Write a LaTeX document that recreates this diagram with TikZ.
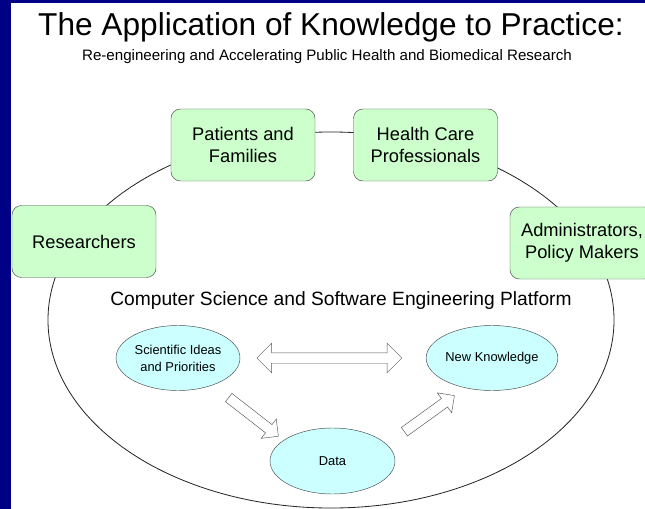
\documentclass[tikz,border=0pt]{standalone}
\usepackage{fontspec}
\setmainfont{Liberation Sans}
\usetikzlibrary{shapes.geometric,shapes.arrows}

\definecolor{slideblue}{RGB}{0,0,135}
\definecolor{actorgreen}{RGB}{204,255,204}
\definecolor{stagecyan}{RGB}{204,255,255}

\begin{document}
\begin{tikzpicture}[x=0.03cm, y=-0.03cm,
  actor/.style={draw=black!70, fill=actorgreen, rounded corners=8pt, minimum width=4.32cm, minimum height=2.16cm, align=center, inner sep=2pt, font=\fontsize{15.6}{18.7}\selectfont},
  stage/.style={draw=black!70, fill=stagecyan, ellipse, minimum width=3.72cm, minimum height=1.95cm, inner sep=0pt, align=center, font=\fontsize{11}{14.5}\selectfont},
  fatarrow/.style={draw=black!65, fill=white, single arrow, single arrow head extend=0.21cm, inner xsep=0pt, inner ysep=0.15cm, sloped},
  twoway/.style={draw=black!65, fill=white, double arrow, double arrow head extend=0.285cm, inner xsep=0pt, inner ysep=0.15cm}]
\useasboundingbox (0,0) rectangle (645,509);
\clip (0,0) rectangle (645,509);

% slide frame
\fill[white] (0,0) rectangle (645,509);
\fill[slideblue] (0,0) rectangle (11,509);
\fill[slideblue] (0,0) rectangle (645,3);

\node[anchor=base, font=\fontsize{27}{32}\selectfont] (title) at (331,36) {The Application of Knowledge to Practice:};
\node[anchor=base, font=\fontsize{12.9}{15}\selectfont] (subtitle) at (327,61) {Re-engineering and Accelerating Public Health and Biomedical Research};

% platform ring, the actors sit on it
\node[draw=black!85, line width=0.7pt, ellipse, minimum width=16.98cm, minimum height=11.28cm, inner sep=0pt] (csse) at (331,320) {};

\node[actor] (res) at (84,241.5) {Researchers};
\node[actor] (pat) at (243,145)   {Patients and\\Families};
\node[actor] (hcp) at (425.5,145) {Health Care\\Professionals};
\node[actor] (adm) at (582,243)   {Administrators,\\Policy Makers};

\node[anchor=base, font=\fontsize{16.4}{19}\selectfont] (platform) at (341,305) {Computer Science and Software Engineering Platform};

\node[stage] (sci)  at (178,358)   {Scientific Ideas\\and Priorities};
\node[stage, minimum width=3.75cm, minimum height=1.98cm] (data) at (332.5,461) {Data};
\node[stage] (nk)   at (492,358)   {New Knowledge};

\path (sci.east) -- node[twoway, minimum height=4.35cm, pos=0.48] (ideasknow) {} (nk.west);
\path (sci.-38.6) -- node[fatarrow, minimum height=1.89cm, pos=0.547] (ideasdata) {} (data.157.6);
\path (data.17.2) -- node[fatarrow, minimum height=1.85cm, pos=0.517] (dataknow) {} (nk.-132.3);
\end{tikzpicture}
\end{document}
